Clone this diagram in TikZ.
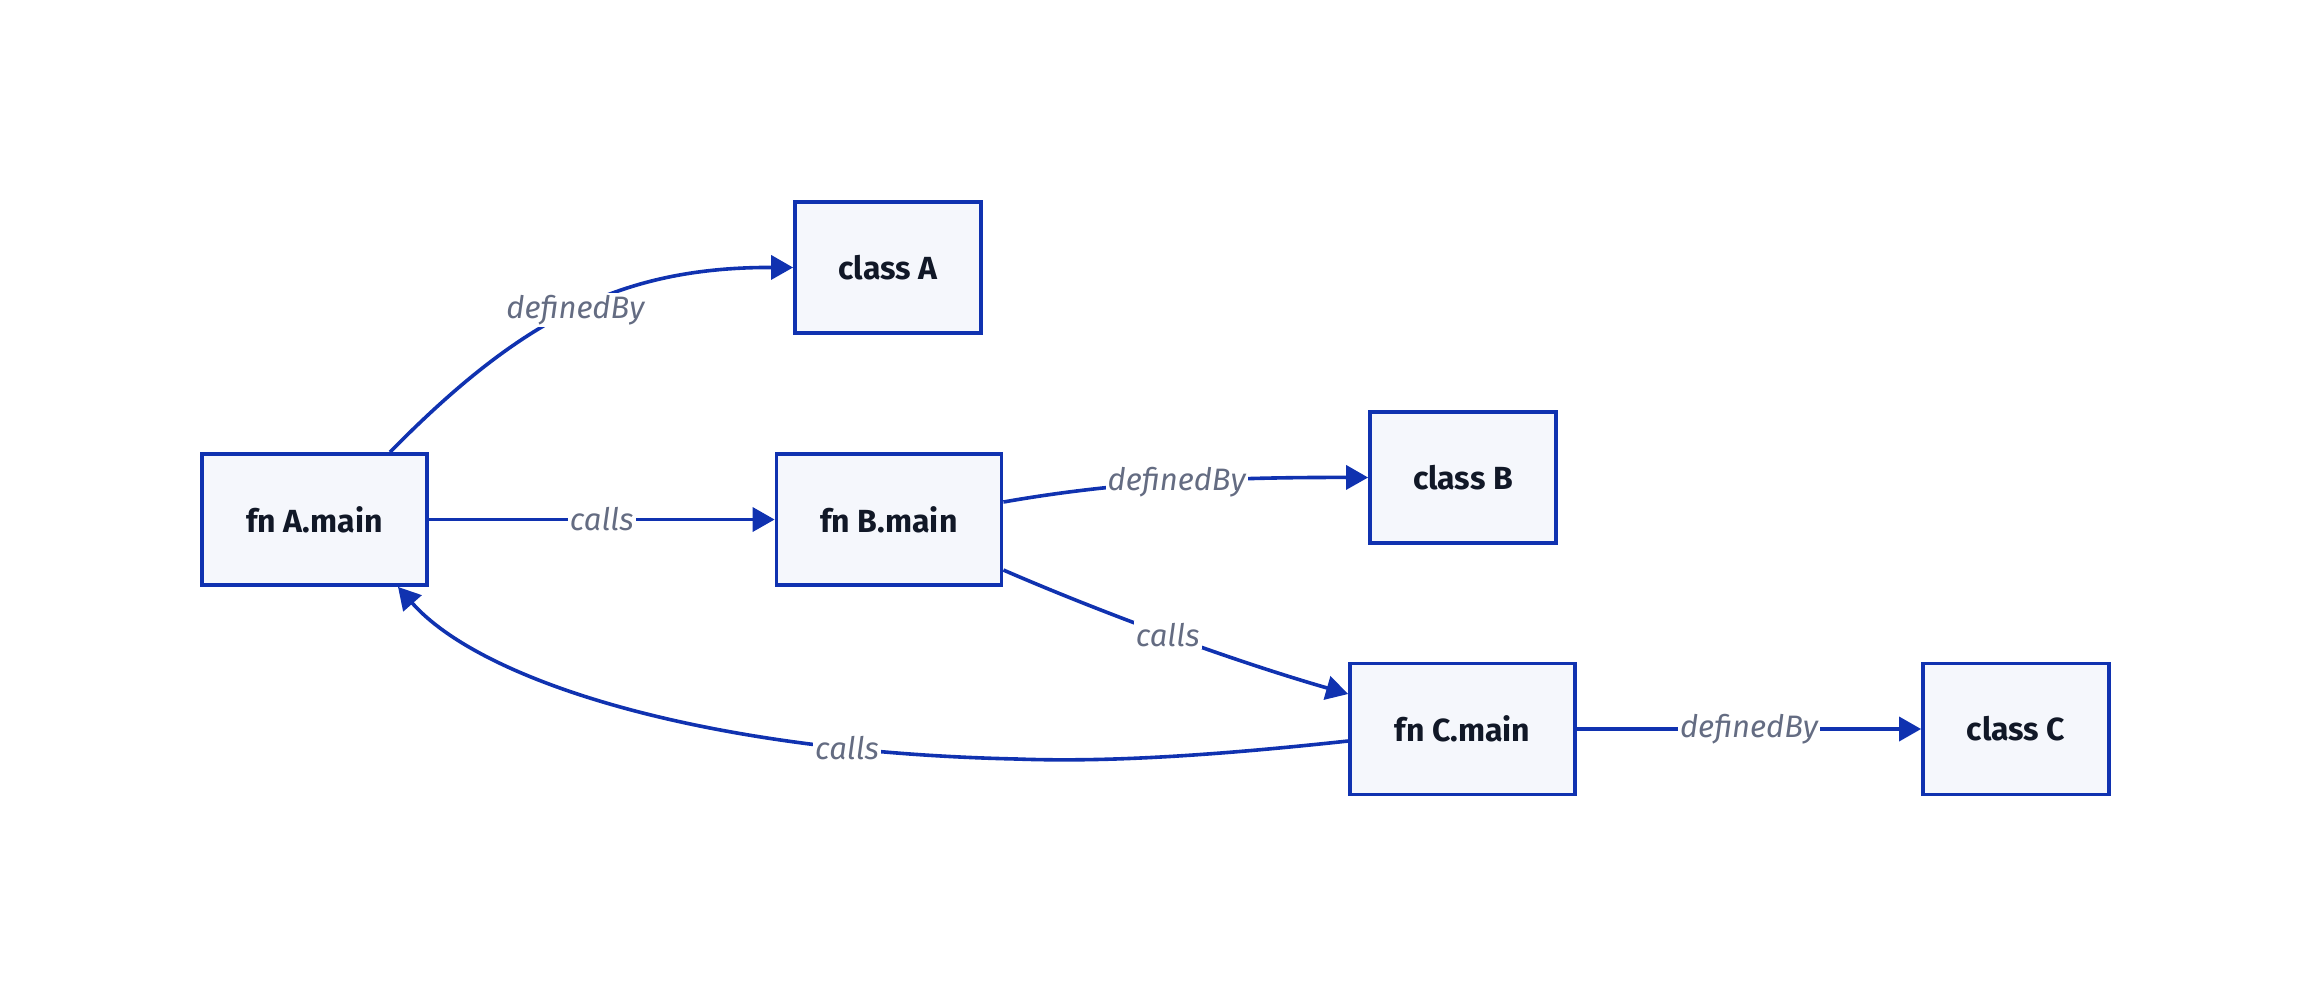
\documentclass[tikz,border=0pt]{standalone}
\usepackage{fontspec}
\setmainfont{Fira Sans}
\usetikzlibrary{arrows.meta}
\definecolor{edgeblue}{RGB}{16,50,176}
\definecolor{boxfill}{RGB}{245,247,252}
\definecolor{nodetext}{RGB}{17,24,39}
\definecolor{labelgray}{RGB}{100,108,130}
\begin{document}
\begin{tikzpicture}[x=0.5pt,y=-0.5pt,
  box/.style={draw=edgeblue,line width=1.9pt,fill=boxfill,font=\fontsize{16}{18}\selectfont\bfseries,text=nodetext,inner sep=0pt},
  fnbox/.style={box,minimum width=112.5pt,minimum height=65.5pt},
  clbox/.style={box,minimum width=93pt,minimum height=65.5pt},
  conn/.style={draw=edgeblue,line width=1.8pt,-{Triangle[length=11pt,width=12pt]}},
  lbl/.style={fill=white,inner sep=1pt,font=\fontsize{15.5}{18}\selectfont\itshape,text=labelgray}]
\useasboundingbox (0,0) rectangle (2310,998);
\node[fnbox] (fa) at (314.5,519.5) {fn A.main};
\node[clbox] (ca) at (888,267.5) {class A};
\node[fnbox] (fb) at (889,519.5) {fn B.main};
\node[clbox] (cb) at (1463,477.5) {class B};
\node[fnbox] (fc) at (1462.5,729) {fn C.main};
\node[clbox] (cc) at (2016,729) {class C};
\draw[conn] ([xshift=37.75pt]fa.north) .. controls (520,320) and (620,267) .. (ca.west) node[lbl,pos=0.5] {definedBy};
\draw[conn] (fa) -- (fb) node[lbl,midway] {calls};
\draw[conn] ([yshift=8.75pt]fb.east) .. controls (1100,485) and (1200,477) .. (cb.west) node[lbl,pos=0.55] {definedBy};
\draw[conn] ([yshift=-25.25pt]fb.east) .. controls (1100,612) and (1230,660) .. ([yshift=17.5pt]fc.west) node[lbl,pos=0.5] {calls};
\draw[conn] ([yshift=-6pt]fc.west) .. controls (1200,757) and (1100,762) .. (1017,759) .. controls (700,752) and (480,680) .. ([xshift=41.75pt]fa.south) node[lbl,pos=0.19] {calls};
\draw[conn] (fc) -- (cc) node[lbl,midway] {definedBy};
\end{tikzpicture}
\end{document}
